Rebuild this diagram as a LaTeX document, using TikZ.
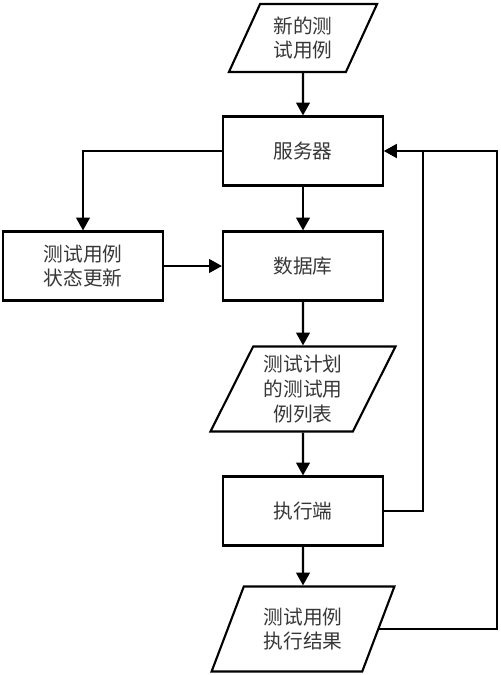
\documentclass[tikz,border=0pt]{standalone}
\usepackage{fontspec}
\setmainfont{Noto Sans CJK SC}
\usepackage{tikz}
\usetikzlibrary{positioning,arrows.meta,shapes.geometric}
\definecolor{txtGray}{RGB}{55,55,55}

\tikzset{
  procbox/.style={draw, line width=1.5pt, minimum width=4cm, minimum height=1.725cm,
    align=center, inner sep=0pt, text=txtGray},
  databox/.style={draw, line width=1.5pt, trapezium, trapezium left angle=63.4,
    trapezium right angle=116.6, trapezium stretches=true, align=center,
    inner sep=0pt, text=txtGray},
  arr/.style={line width=1.5pt, -{Triangle[length=3.2mm,width=3.4mm]}},
}

\begin{document}
\begin{tikzpicture}[x=0.025cm, y=-0.025cm,
    every node/.append style={font=\fontsize{14}{17.5}\selectfont}]
  \useasboundingbox (0,0) rectangle (500,675);

  % input and main flow
  \node[databox, minimum width=3.725cm, minimum height=1.7cm] (newcase) at (303,38) {新的测\\试用例};
  \node[procbox] (server) at (303,151) {服务器};
  \node[procbox] (update) at (83,266) {测试用例\\状态更新};
  \node[procbox] (db) at (303,266) {数据库};
  \node[databox, minimum width=4.625cm, minimum height=2.125cm] (plan) at (303,389) {测试计划\\的测试用\\例列表};
  \node[procbox] (exec) at (303,511) {执行端};
  \node[databox, minimum width=4.6cm, minimum height=2.125cm] (result) at (303,629) {测试用例\\执行结果};

  % feedback corners
  \coordinate (loopA) at (423,151);
  \coordinate (loopB) at (497,151);

  % connectors
  \draw[arr] (newcase) -- (server);
  \draw[arr] (server.west) -| (update.north);
  \draw[arr] (server) -- (db);
  \draw[arr] (update) -- (db);
  \draw[arr] (db) -- (plan);
  \draw[arr] (plan) -- (exec);
  \draw[arr] (exec) -- (result);
  \draw[arr] (exec.east) -| (loopA) -- (server.east);
  \draw[arr] (result.east) -| (loopB) -- (server.east);
\end{tikzpicture}
\end{document}
